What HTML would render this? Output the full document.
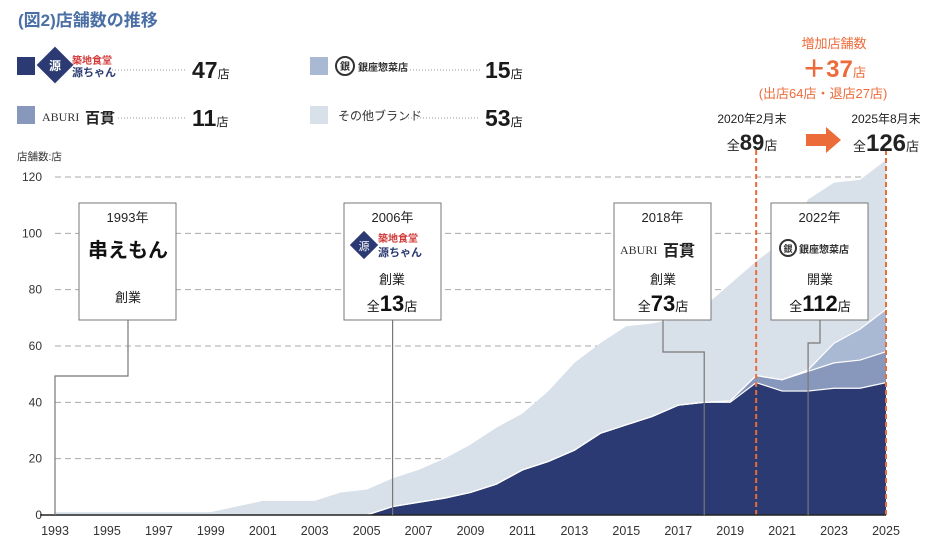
<!DOCTYPE html>
<html><head><meta charset="utf-8">
<style>
body{margin:0;background:#fff;width:940px;height:549px;overflow:hidden;font-family:"Liberation Sans","Noto Sans CJK JP",sans-serif;}
svg{display:block}
</style></head>
<body>
<svg id="chart" width="940" height="549" xmlns="http://www.w3.org/2000/svg" font-family="Liberation Sans, Noto Sans CJK JP, sans-serif">
<text x="18" y="26" font-size="17" font-weight="bold" fill="#4a6fa5">(図2)店舗数の推移</text>

<g>
 <g>
  <rect x="17" y="57" width="18" height="18" fill="#2b3a72"/>
  <rect x="42" y="52" width="26" height="26" fill="#2b3a72" transform="rotate(45 55 65)"/>
  <text x="55" y="70" font-size="12" fill="#fff" text-anchor="middle" font-weight="bold">源</text>
  <text x="72" y="64" font-size="10" fill="#d23a3a" font-weight="bold">築地食堂</text>
  <text x="72" y="76" font-size="11" fill="#2b3a72" font-weight="bold">源ちゃん</text>
  <line x1="112" y1="70" x2="186" y2="70" stroke="#999" stroke-dasharray="1 2"/>
  <text x="192" y="78" font-size="23" font-weight="bold" fill="#1a1a1a">47<tspan font-size="12" font-weight="normal">店</tspan></text>
 </g>
 <g>
  <rect x="17" y="106" width="18" height="18" fill="#8898bd"/>
  <text x="42" y="121" font-size="12" fill="#333" font-family="Liberation Serif, serif">ABURI</text>
  <text x="85" y="123" font-size="15" fill="#222" font-weight="bold">百貫</text>
  <line x1="118" y1="118" x2="186" y2="118" stroke="#999" stroke-dasharray="1 2"/>
  <text x="192" y="126" font-size="23" font-weight="bold" fill="#1a1a1a">11<tspan font-size="12" font-weight="normal">店</tspan></text>
 </g>
 <g>
  <rect x="310" y="57" width="18" height="18" fill="#a9b8d3"/>
  <circle cx="345" cy="66" r="9" fill="none" stroke="#333" stroke-width="2"/>
  <text x="345" y="70" font-size="10" text-anchor="middle" fill="#333" font-weight="bold">銀</text>
  <text x="358" y="71" font-size="10" fill="#333" font-weight="bold">銀座惣菜店</text>
  <line x1="398" y1="70" x2="480" y2="70" stroke="#999" stroke-dasharray="1 2"/>
  <text x="485" y="78" font-size="23" font-weight="bold" fill="#1a1a1a">15<tspan font-size="12" font-weight="normal">店</tspan></text>
 </g>
 <g>
  <rect x="310" y="106" width="18" height="18" fill="#d8e0ea"/>
  <text x="338" y="120" font-size="12" fill="#333">その他ブランド</text>
  <line x1="402" y1="118" x2="480" y2="118" stroke="#999" stroke-dasharray="1 2"/>
  <text x="485" y="126" font-size="23" font-weight="bold" fill="#1a1a1a">53<tspan font-size="12" font-weight="normal">店</tspan></text>
 </g>
</g>
<text x="17" y="160" font-size="10.5" fill="#333">店舗数:店</text>

<g id="grid"></g>
<g id="areas"></g>
<g id="axes"></g>

<g fill="#ec6b3a" text-anchor="middle">
 <text x="834" y="48" font-size="13">増加店舗数</text>
 <text x="834" y="77" font-size="24" font-weight="bold">＋37<tspan font-size="13" font-weight="normal">店</tspan></text>
 <text x="823" y="98" font-size="13">(出店64店・退店27店)</text>
</g>
<g text-anchor="middle" fill="#222">
 <text x="752" y="123" font-size="12">2020年2月末</text>
 <text x="752" y="150" font-size="22" font-weight="bold"><tspan font-size="13" font-weight="normal">全</tspan>89<tspan font-size="13" font-weight="normal">店</tspan></text>
</g>
<path d="M806 134 H826 V127 L841 140 L826 153 V146 H806 Z" fill="#ec6b3a"/>
<g text-anchor="middle" fill="#222">
 <text x="886" y="123" font-size="12">2025年8月末</text>
 <text x="886" y="151" font-size="24" font-weight="bold"><tspan font-size="13" font-weight="normal">全</tspan>126<tspan font-size="13" font-weight="normal">店</tspan></text>
</g>

<g id="annotations"></g>
</svg>
<script>
const years=[1993,1994,1995,1996,1997,1998,1999,2000,2001,2002,2003,2004,2005,2006,2007,2008,2009,2010,2011,2012,2013,2014,2015,2016,2017,2018,2019,2020,2021,2022,2023,2024,2025];
const genchan=[0,0,0,0,0,0,0,0,0,0,0,0,0,3,4.5,6,8,11,16,19,23,29,32,35,39,40,40,47,44,44,45,45,47];
const aburi=[0,0,0,0,0,0,0,0,0,0,0,0,0,0,0,0,0,0,0,0,0,0,0,0,0,0,0.5,2.5,4,7,9,10,11];
const ginza=[0,0,0,0,0,0,0,0,0,0,0,0,0,0,0,0,0,0,0,0,0,0,0,0,0,0,0,0,0,0.5,7,11,15];
const totals=[1,1,1,1,1,1,1,3,5,5,5,8,9,13,16,20,25,31,36,44,54,61,67,68,70,74,82,90,97,112,118,119,126];
const yTicks=[0,20,40,60,80,100,120];
const xTickYears=[1993,1995,1997,1999,2001,2003,2005,2007,2009,2011,2013,2015,2017,2019,2021,2023,2025];

const NS='http://www.w3.org/2000/svg';
const X0=55,X1=886,Y0=515,Y1=177;
function xs(y){return X0+(y-1993)/(2025-1993)*(X1-X0);}
function ys(v){return Y0-v/120*(Y0-Y1);}
function mk(tag,attrs,parent){const e=document.createElementNS(NS,tag);for(const k in attrs)e.setAttribute(k,attrs[k]);parent.appendChild(e);return e;}

const grid=document.getElementById('grid');
const axes=document.getElementById('axes');
yTicks.forEach(t=>{
  if(t>0){const l=mk('line',{x1:X0,x2:880,y1:ys(t),y2:ys(t),stroke:'#aaa','stroke-dasharray':'6 4','stroke-width':1},grid);
  
  }
  const tx=mk('text',{x:42,y:ys(t)+4,'font-size':12,fill:'#333','text-anchor':'end'},axes);
  tx.textContent=t;
  
  
});
xTickYears.forEach(y=>{
  const tx=mk('text',{x:xs(y),y:535,'font-size':12.5,fill:'#333','text-anchor':'middle'},axes);
  tx.textContent=y;
  
  
});
const ax=mk('line',{x1:40,x2:X1,y1:Y0,y2:Y0,stroke:'#222','stroke-width':1.5},axes);



const areas=document.getElementById('areas');
const c1=genchan, c2=genchan.map((v,i)=>v+aburi[i]), c3=c2.map((v,i)=>v+ginza[i]);
function band(lo,hi,fill,name,stroke){
  let d='M'+xs(years[0])+','+ys(hi[0]);
  for(let i=1;i<years.length;i++)d+='L'+xs(years[i])+','+ys(hi[i]);
  for(let i=years.length-1;i>=0;i--)d+='L'+xs(years[i])+','+ys(lo?lo[i]:0);
  const p=mk('path',{d:d+'Z',fill:fill,stroke:stroke||'none','stroke-width':1},areas);
  
  
}
band(c3,totals,'#d8e0ea','area-others');
band(c2,c3,'#a9b8d3','area-ginza');
band(c1,c2,'#8898bd','area-aburi');
band(null,c1,'#2b3a72','area-genchan');
// white separator lines
[c1,c2,c3].forEach((arr,k)=>{
  let d='';
  for(let i=0;i<years.length;i++){if(years[i]<2005)continue;d+=(d?'L':'M')+xs(years[i])+','+ys(arr[i]);}
  const p=mk('path',{d:d,fill:'none',stroke:'#fff','stroke-width':1.2},areas);
  
  
});
// orange dashed markers
[2020,2025].forEach(y=>{
  const l=mk('line',{x1:xs(y),x2:xs(y),y1:150,y2:Y0,stroke:'#ec6b3a','stroke-width':2,'stroke-dasharray':'5 3'},areas);
  
  
});

const ann=document.getElementById('annotations');
function box(x,title,body,path,name){
  const g=mk('g',{},ann);
  
  
  mk('path',{d:path,fill:'none',stroke:'#777','stroke-width':1.2},g);
  mk('rect',{x:x,y:203,width:97,height:117,fill:'#fff',stroke:'#777','stroke-width':1},g);
  const t=mk('text',{x:x+48.5,y:222,'font-size':13,fill:'#222','text-anchor':'middle'},g);t.textContent=title;
  g.insertAdjacentHTML('beforeend',body);
  return g;
}
const mx=x=>x+48.5;
box(79,'1993年','<text x="128" y="257" font-size="20" font-weight="bold" text-anchor="middle" fill="#111">串えもん</text><text x="128" y="302" font-size="13" text-anchor="middle" fill="#222">創業</text>',
 'M128,320 V376 H'+xs(1993)+' V'+Y0,'annotation-1993');
box(344,'2006年','<rect x="354" y="235" width="20" height="20" fill="#2b3a72" transform="rotate(45 364 245)"/><text x="364" y="250" font-size="11" fill="#fff" text-anchor="middle">源</text><text x="378" y="242" font-size="10" fill="#d23a3a" font-weight="bold">築地食堂</text><text x="378" y="256" font-size="11" fill="#2b3a72" font-weight="bold">源ちゃん</text><text x="392" y="284" font-size="13" text-anchor="middle" fill="#222">創業</text><text x="392" y="311" font-size="22" font-weight="bold" text-anchor="middle" fill="#111"><tspan font-size="13" font-weight="normal">全</tspan>13<tspan font-size="13" font-weight="normal">店</tspan></text>',
 'M'+xs(2006)+',320 V'+Y0,'annotation-2006');
box(614,'2018年','<text x="620" y="254" font-size="12" fill="#333" font-family="Liberation Serif, serif">ABURI</text><text x="663" y="256" font-size="16" fill="#222" font-weight="bold">百貫</text><text x="663" y="284" font-size="13" text-anchor="middle" fill="#222">創業</text><text x="663" y="311" font-size="22" font-weight="bold" text-anchor="middle" fill="#111"><tspan font-size="13" font-weight="normal">全</tspan>73<tspan font-size="13" font-weight="normal">店</tspan></text>',
 'M663,320 V352 H'+xs(2018)+' V'+Y0,'annotation-2018');
box(771,'2022年','<circle cx="788" cy="248" r="8" fill="none" stroke="#333" stroke-width="2"/><text x="788" y="252" font-size="9" text-anchor="middle" fill="#333" font-weight="bold">銀</text><text x="799" y="253" font-size="10" fill="#333" font-weight="bold">銀座惣菜店</text><text x="820" y="284" font-size="13" text-anchor="middle" fill="#222">開業</text><text x="820" y="311" font-size="22" font-weight="bold" text-anchor="middle" fill="#111"><tspan font-size="13" font-weight="normal">全</tspan>112<tspan font-size="13" font-weight="normal">店</tspan></text>',
 'M820,320 V343 H'+xs(2022)+' V'+Y0,'annotation-2022');
</script>
</body></html>
